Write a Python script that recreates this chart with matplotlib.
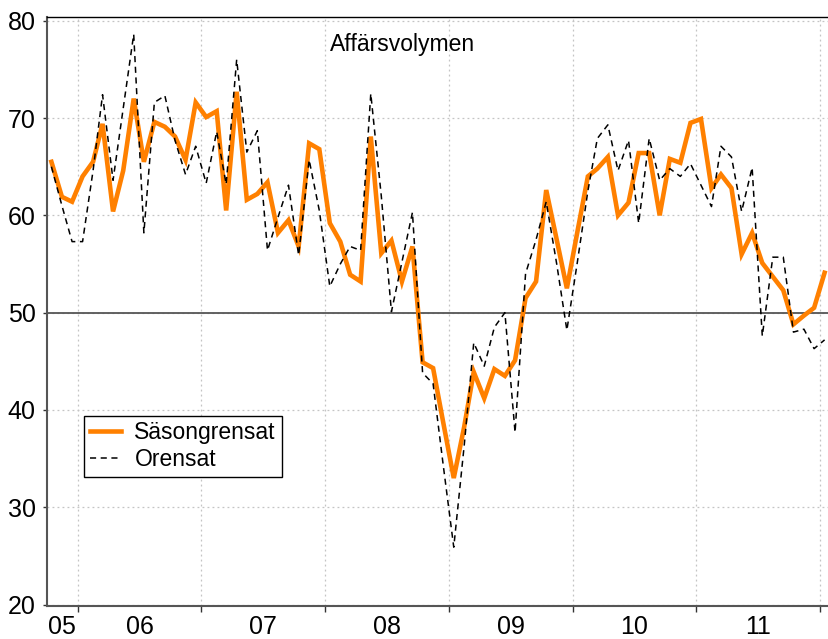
import numpy as np
import pandas as pd
import matplotlib
matplotlib.use("Agg")
import matplotlib.pyplot as plt
import matplotlib.dates as mdates

plt.rcParams['font.family'] = ['Liberation Sans', 'DejaVu Sans']

# ===== Data: monthly, Oct 2005 - Jan 2012 =====
start_month = '2005-10-01'

sasongrensat = [
    65.5, 61.9, 61.4, 64.0, 65.5, 69.4, 60.4, 64.6, 72.0, 65.5, 69.6, 69.1,
    68.1, 65.7, 71.6, 70.1, 70.7, 60.5, 72.7, 61.6, 62.2, 63.4, 58.2, 59.5,
    56.8, 67.4, 66.8, 59.2, 57.3, 53.9, 53.2, 68.1, 56.1, 57.4, 53.2, 56.8,
    44.9, 44.3, 38.7, 33.0, 38.3, 43.9, 41.2, 44.2, 43.5, 45.1, 51.5, 53.2,
    62.6, 57.5, 52.5, 58.3, 64.0, 64.8, 66.0, 60.0, 61.3, 66.4, 66.4, 60.0,
    65.8, 65.4, 69.5, 69.9, 62.8, 64.2, 62.8, 56.0, 58.2, 55.1, 53.7, 52.3,
    48.8, 49.7, 50.5, 54.1,
]

orensat = [
    65.0, 61.0, 57.3, 57.3, 64.6, 72.4, 63.6, 71.0, 78.6, 58.2, 71.6, 72.3,
    67.7, 64.2, 67.1, 63.3, 68.6, 63.2, 76.0, 66.5, 68.7, 56.4, 59.8, 63.1,
    55.9, 65.7, 60.5, 52.7, 55.0, 56.8, 56.4, 72.5, 62.0, 50.1, 55.2, 60.3,
    43.8, 42.7, 34.3, 25.9, 36.4, 46.9, 44.5, 48.5, 50.0, 37.7, 54.0, 57.5,
    61.4, 55.0, 48.2, 55.2, 62.5, 67.9, 69.3, 64.6, 67.7, 59.2, 67.9, 63.6,
    64.8, 64.0, 65.3, 63.1, 60.9, 67.1, 66.0, 60.4, 64.9, 47.6, 55.7, 55.7,
    48.0, 48.3, 46.3, 47.2,
]

year_labels = ['05', '06', '07', '08', '09', '10', '11']
yticks = [20, 30, 40, 50, 60, 70, 80]

# mid-month dates
months = pd.date_range(start_month, periods=len(sasongrensat), freq='MS') + pd.Timedelta(days=14)

fig = plt.figure(figsize=(8.29, 6.39), dpi=100)
ax = fig.add_axes([0.0563, 0.0516, 0.9437, 0.9213])

x_left = pd.Timestamp('2005-10-01')
x_right = pd.Timestamp('2012-01-28')
ax.set_xlim(x_left, x_right)
ax.set_ylim(19.85, 80.35)

# grid
ax.grid(True, which='major', color='#c4c4c4', linestyle=(0, (1.5, 2.5)), linewidth=0.9)
ax.axhline(50, color='#555555', linewidth=1.3, zorder=2)

ax.plot(months, sasongrensat, color='#ff8000', linewidth=3.3, label='Säsongrensat', zorder=3,
        solid_joinstyle='miter')
ax.plot(months, orensat, color='black', linewidth=1.1, linestyle=(0, (4, 3)), label='Orensat', zorder=4)

# x axis: ticks at year boundaries, labels at the middle of the visible part of each year
ax.xaxis.set_major_locator(mdates.YearLocator())
ax.xaxis.set_major_formatter(plt.NullFormatter())
label_pos = [pd.Timestamp('2005-11-16')] + [pd.Timestamp(f'20{y}-07-02') for y in year_labels[1:]]
ax.set_xticks(label_pos, minor=True)
ax.set_xticklabels(year_labels, minor=True)
ax.tick_params(axis='x', which='minor', length=0, pad=6.5, labelsize=18)
ax.tick_params(axis='x', which='major', length=4, width=1, color='#333333', direction='out')

ax.set_yticks(yticks)
ax.tick_params(axis='y', length=3, width=1, color='#333333', direction='out', pad=5, labelsize=18)

for side in ['left', 'bottom']:
    ax.spines[side].set_color('#555555')
    ax.spines[side].set_linewidth(1.5)
ax.spines['top'].set_color('black')
ax.spines['top'].set_linewidth(1.0)
ax.spines['right'].set_visible(False)

ax.text(0.362, 0.953, 'Affärsvolymen', transform=ax.transAxes, ha='left', va='center', fontsize=16.5)

leg = ax.legend(loc='upper left', bbox_to_anchor=(0.0477, 0.3233), borderaxespad=0,
                fancybox=False, framealpha=1, edgecolor='black', fontsize=16.5,
                handlelength=1.35, handletextpad=0.6, labelspacing=0.15, borderpad=0.25)
leg.get_frame().set_linewidth(1.0)

fig.savefig('out.png', dpi=100)
